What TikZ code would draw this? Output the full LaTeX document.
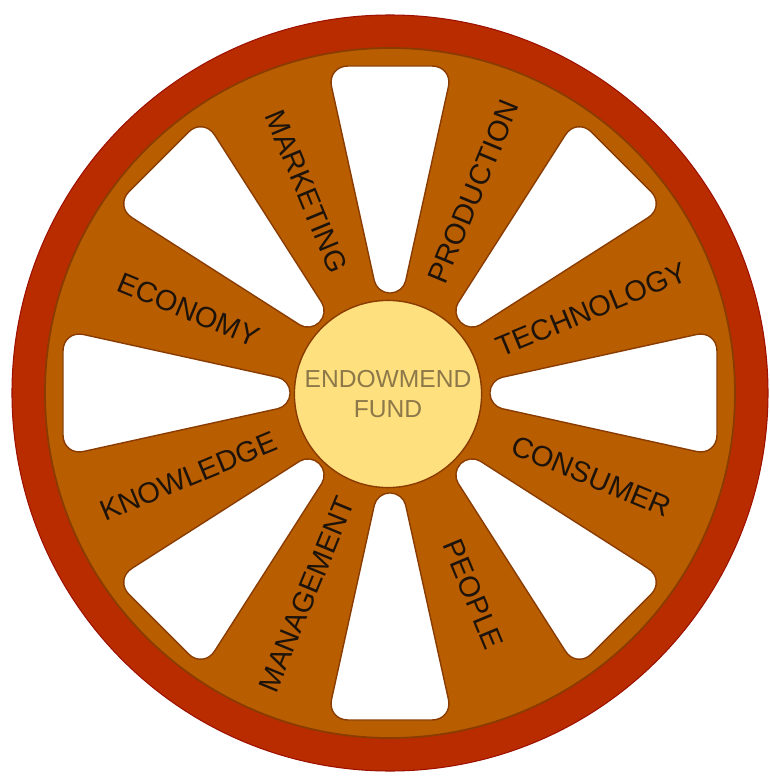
\documentclass[tikz,border=0pt]{standalone}
\usepackage{fontspec}
\setmainfont{Liberation Sans}
\usepackage{xcolor}

\definecolor{rimred}{HTML}{B82C00}
\definecolor{rimedge}{HTML}{9E1000}
\definecolor{wheelbrown}{HTML}{B85E00}
\definecolor{holeedge}{HTML}{8A3C00}
\definecolor{hubyellow}{HTML}{FFE07F}
\definecolor{hubtext}{HTML}{8C7848}

\begin{document}
\begin{tikzpicture}[x=0.02cm, y=0.02cm,
    hole/.style={fill=white, draw=holeedge, line width=0.8pt, rounded corners=7pt},
    spokelabel/.style={font=\fontsize{16.5}{18}\selectfont, text=black!85!brown, inner sep=0pt}]
    \useasboundingbox (-390,-385) rectangle (379,393);

    % Rim
    \fill[rimred, draw=rimedge, line width=0.6pt] (0,0) circle (378);
    \fill[wheelbrown, draw=holeedge, line width=1pt] (0,0) circle (345);

    % Holes between the spokes
    \draw[hole, rotate=90] (100,-13) [rounded corners=12pt] -- (327,-63) -- (327,63) [rounded corners=7pt] -- (100,13) -- cycle;
    \draw[hole, rotate=45] (100,-13) [rounded corners=12pt] -- (327,-63) -- (327,63) [rounded corners=7pt] -- (100,13) -- cycle;
    \draw[hole, rotate=0] (100,-13) [rounded corners=12pt] -- (327,-63) -- (327,63) [rounded corners=7pt] -- (100,13) -- cycle;
    \draw[hole, rotate=-45] (100,-13) [rounded corners=12pt] -- (327,-63) -- (327,63) [rounded corners=7pt] -- (100,13) -- cycle;
    \draw[hole, rotate=-90] (100,-13) [rounded corners=12pt] -- (327,-63) -- (327,63) [rounded corners=7pt] -- (100,13) -- cycle;
    \draw[hole, rotate=-135] (100,-13) [rounded corners=12pt] -- (327,-63) -- (327,63) [rounded corners=7pt] -- (100,13) -- cycle;
    \draw[hole, rotate=180] (100,-13) [rounded corners=12pt] -- (327,-63) -- (327,63) [rounded corners=7pt] -- (100,13) -- cycle;
    \draw[hole, rotate=135] (100,-13) [rounded corners=12pt] -- (327,-63) -- (327,63) [rounded corners=7pt] -- (100,13) -- cycle;

    % Hub
    \node[circle, fill=hubyellow, draw=holeedge, line width=0.8pt, minimum size=3.68cm,
          align=center, text=hubtext, font=\fontsize{14}{17}\selectfont] (hub) at (-2,-1)
          {ENDOWMEND\\FUND};

    % Spoke labels
    \node[spokelabel, rotate=-67.5] (marketing) at (112.5:218) {MARKETING};
    \node[spokelabel, rotate=67.5] (production) at (67.5:218) {PRODUCTION};
    \node[spokelabel, rotate=22.5] (technology) at (22.5:218) {TECHNOLOGY};
    \node[spokelabel, rotate=-22.5] (consumer) at (-22.5:218) {CONSUMER};
    \node[spokelabel, rotate=-67.5] (people) at (-67.5:218) {PEOPLE};
    \node[spokelabel, rotate=67.5] (management) at (-112.5:218) {MANAGEMENT};
    \node[spokelabel, rotate=22.5] (knowledge) at (-157.5:218) {KNOWLEDGE};
    \node[spokelabel, rotate=-22.5] (economy) at (157.5:218) {ECONOMY};
\end{tikzpicture}
\end{document}
